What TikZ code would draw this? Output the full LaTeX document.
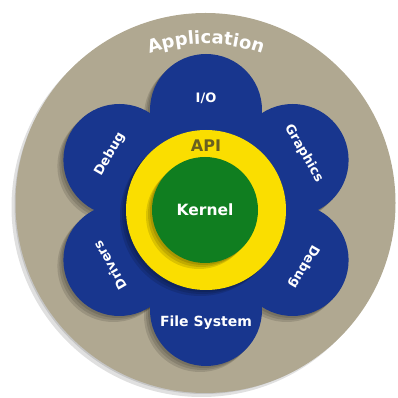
\documentclass[tikz,border=0pt]{standalone}
\usepackage{fontspec}
\setmainfont{DejaVu Sans}
\usetikzlibrary{calc,decorations.text}

\definecolor{appTan}{RGB}{176,168,145}
\definecolor{osBlue}{RGB}{24,54,142}
\definecolor{apiYellow}{RGB}{250,222,0}
\definecolor{kernelGreen}{RGB}{16,126,32}
\definecolor{apiText}{RGB}{105,96,32}

\begin{document}
\begin{tikzpicture}
            [
                x=1pt, y=1pt,
                disc/.style={circle, inner sep=0pt, minimum size=#1},
                petal text/.style={text=white, font=\bfseries\fontsize{13}{13}\selectfont},
                soft/.style={fill=black, opacity=0.12}
            ]
            \useasboundingbox (0,0) rectangle (398,398);
            \coordinate (center) at (206,188);

            % application layer with soft shadow
            \foreach \d in {0,2,4}
                \fill[soft] (205.5-\d,195-\d) circle[radius=188+\d/2];
            \node[disc=380pt, fill=appTan] (application) at (205.5,195) {};
            \path[decorate, decoration={text along path, text align=center,
                    text={|\color{white}\bfseries\fontsize{18}{18}\selectfont|Application}}]
                (center) ++(113:166) arc[start angle=113, end angle=67, radius=166];

            % shadow of the flower
            \foreach \d in {2,4,6} {
                \fill[soft] ($(center)+(-\d,-\d)$) circle[radius=100];
                \foreach \a in {90,30,...,-210}
                    \fill[soft] ($(center)+(-\d,-\d)+(\a:100)$) circle[radius=56];
            }

            % flower of services
            \node[disc=200pt, fill=osBlue] (services) at (center) {};
            \foreach \a/\name in {90/io, 30/graphics, -30/debug-right,
                    -90/filesystem, -150/drivers, 150/debug-left}
                \node[disc=112pt, fill=osBlue] (petal-\name) at ($(center)+(\a:100)$) {};

            \node[petal text] (io) at ($(center)+(90:112)$) {I/O};
            \node[petal text, rotate=-60] (graphics) at ($(center)+(30:113)$) {Graphics};
            \node[petal text, rotate=-120] (debug-right) at ($(center)+(-30:113)$) {Debug};
            \node[petal text, font=\bfseries\fontsize{14}{14}\selectfont]
                (filesystem) at ($(center)+(-90:113)$) {File System};
            \node[petal text, rotate=120] (drivers) at ($(center)+(-150:111)$) {Drivers};
            \node[petal text, rotate=60] (debug-left) at ($(center)+(150:111)$) {Debug};

            % API ring
            \foreach \d in {2,4,6}
                \fill[soft] ($(center)+(-\d,-\d)$) circle[radius=80];
            \node[disc=160pt, fill=apiYellow] (api-ring) at (center) {};
            \node[text=apiText, font=\bfseries\fontsize{16}{16}\selectfont]
                (api) at ($(center)+(0,64)$) {API};

            % kernel
            \foreach \d in {2,4,6}
                \fill[soft] ($(center)+(-1-\d,-\d)$) circle[radius=53];
            \node[disc=106pt, fill=kernelGreen] (kernel-disc) at ($(center)+(-1,0)$) {};
            \node[text=white, font=\bfseries\fontsize{15.5}{15.5}\selectfont]
                (kernel) at (kernel-disc) {Kernel};
\end{tikzpicture}
\end{document}
